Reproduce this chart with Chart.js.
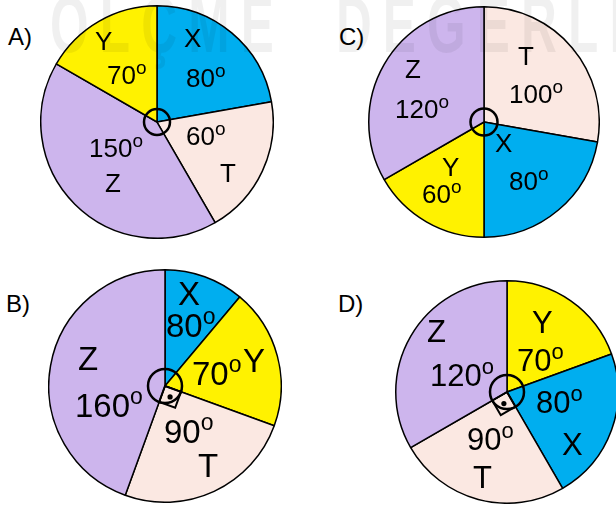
<!DOCTYPE html>
<html>
<head>
<meta charset="utf-8">
<script src="https://cdn.jsdelivr.net/npm/chart.js@4.4.0/dist/chart.umd.min.js"></script>
<style>
  html, body { margin: 0; padding: 0; background: #fff; }
  body { width: 616px; height: 505px; position: relative; overflow: hidden;
         font-family: 'Liberation Sans', Arial, sans-serif; }
  canvas { position: absolute; }
  .tag { position: absolute; font-size: 24px; line-height: 1; color: #000; }
  .stamp { position: absolute; left: 50px; top: -15px; white-space: nowrap;
           font: bold 80px/1 'Liberation Sans', Arial, sans-serif;
           color: rgba(0, 0, 0, 0.06); letter-spacing: 18px; word-spacing: 42px;
           transform-origin: 0 0; transform: scaleX(0.62);
           pointer-events: none; z-index: 5; }
</style>
</head>
<body>
<div class="stamp">ÖLÇME DEĞERLENDİRME</div>
<div class="tag" style="left:8px;top:25px">A)</div>
<div class="tag" style="left:339px;top:25px">C)</div>
<div class="tag" style="left:6px;top:292px">B)</div>
<div class="tag" style="left:338px;top:292px">D)</div>
<canvas id="pieA"></canvas>
<canvas id="pieC"></canvas>
<canvas id="pieB"></canvas>
<canvas id="pieD"></canvas>
<script>
// slices clockwise from 12 o'clock; "drawn" = angle as drawn, "marked" = degrees written on it
const aNames = ['X', 'T', 'Z', 'Y'];
const aDrawn = [80, 70, 150, 60];
const aMarked = ['80', '60', '150', '70'];

const cNames = ['T', 'X', 'Y', 'Z'];
const cDrawn = [100, 80, 60, 120];
const cMarked = ['100', '80', '60', '120'];

const bNames = ['X', 'Y', 'T', 'Z'];
const bDrawn = [40, 70, 90, 160];
const bMarked = ['80', '70', '90', '160'];

const dNames = ['Y', 'X', 'T', 'Z'];
const dDrawn = [70, 80, 90, 120];
const dMarked = ['70', '80', '90', '120'];

const sliceColors = { X: '#00aeef', Y: '#fff200', Z: '#cdb5ed', T: '#fbe8e2' };
const FONT = "'Liberation Sans', Arial, sans-serif";

/**
 * Writes the letter and the degree value in each slice, plus the angle marks at the centre
 */
function labelPlugin(spec) {
    return {
        id: 'sliceLabels',
        afterDatasetsDraw: (chart) => {
            const arcs = chart.getDatasetMeta(0).data;
            const cx = arcs[0].x;
            const cy = arcs[0].y;
            const ctx = chart.ctx;
            const f = spec.fontSize;

            ctx.save();
            ctx.fillStyle = '#000';
            ctx.textAlign = 'left';
            ctx.textBaseline = 'alphabetic';
            spec.names.forEach((name, i) => {
                const spot = spec.spots[i];
                ctx.font = `${f}px ${FONT}`;
                ctx.fillText(name, cx + spot.name[0], cy + spot.name[1]);
                const x = cx + spot.deg[0];
                const y = cy + spot.deg[1];
                ctx.fillText(spec.marked[i], x, y);
                const w = ctx.measureText(spec.marked[i]).width;
                ctx.font = `${spec.supSize}px ${FONT}`;
                ctx.fillText('o', x + w, y - 0.39 * f);
            });

            ctx.strokeStyle = '#000';
            ctx.lineWidth = 2.5;
            ctx.beginPath();
            ctx.arc(cx, cy, spec.ring, 0, Math.PI * 2);
            ctx.stroke();

            if (spec.rightAngle != null) {
                const a = arcs[spec.rightAngle];
                const s = 17;
                const u1 = [Math.cos(a.startAngle), Math.sin(a.startAngle)];
                const u2 = [Math.cos(a.endAngle), Math.sin(a.endAngle)];
                ctx.lineWidth = 2;
                ctx.beginPath();
                ctx.moveTo(cx, cy);
                ctx.lineTo(cx + s * u1[0], cy + s * u1[1]);
                ctx.lineTo(cx + s * (u1[0] + u2[0]), cy + s * (u1[1] + u2[1]));
                ctx.lineTo(cx + s * u2[0], cy + s * u2[1]);
                ctx.closePath();
                ctx.stroke();
                ctx.beginPath();
                ctx.arc(cx + 0.5 * s * (u1[0] + u2[0]), cy + 0.5 * s * (u1[1] + u2[1]), 2.6, 0, Math.PI * 2);
                ctx.fill();
            }
            ctx.restore();
        }
    };
}

/**
 * Create one pie with its canvas placed so the pie centre sits at (cx, cy)
 */
function createPie(canvasId, names, drawn, marked, box, spec) {
    const el = document.getElementById(canvasId);
    if (!el) return null;
    const size = 2 * box.r + 2;
    el.width = size;
    el.height = size;
    el.style.left = (box.cx - size / 2) + 'px';
    el.style.top = (box.cy - size / 2) + 'px';

    return new Chart(el, {
        type: 'pie',
        data: {
            labels: names,
            datasets: [{
                data: drawn,
                backgroundColor: names.map(n => sliceColors[n]),
                borderColor: '#000',
                borderWidth: 1.5
            }]
        },
        options: {
            responsive: false,
            animation: false,
            layout: { padding: 0 },
            plugins: {
                legend: { display: false },
                tooltip: { enabled: false }
            }
        },
        plugins: [labelPlugin({ names, marked, ...spec })]
    });
}

createPie('pieA', aNames, aDrawn, aMarked, { cx: 157, cy: 122, r: 116 }, {
    fontSize: 26, supSize: 19, ring: 13,
    spots: [
        { name: [27, -75], deg: [29, -35] },
        { name: [63, 60], deg: [29, 23] },
        { name: [-52, 70], deg: [-68, 35] },
        { name: [-62, -72], deg: [-50, -38] }
    ]
});

createPie('pieC', cNames, cDrawn, cMarked, { cx: 484, cy: 122, r: 115 }, {
    fontSize: 26, supSize: 19, ring: 13.5,
    spots: [
        { name: [34, -57], deg: [25, -19] },
        { name: [11, 30], deg: [25, 68] },
        { name: [-42, 54], deg: [-62, 81] },
        { name: [-79, -44], deg: [-89, -4] }
    ]
});

createPie('pieB', bNames, bDrawn, bMarked, { cx: 165, cy: 386, r: 116 }, {
    fontSize: 33, supSize: 23, ring: 17, rightAngle: 2,
    spots: [
        { name: [13, -81], deg: [1, -49] },
        { name: [78, -14], deg: [27, -1] },
        { name: [33, 91], deg: [-1, 57] },
        { name: [-87, -16], deg: [-90, 31] }
    ]
});

createPie('pieD', dNames, dDrawn, dMarked, { cx: 507, cy: 392, r: 111 }, {
    fontSize: 31, supSize: 22, ring: 17, rightAngle: 2,
    spots: [
        { name: [25, -59], deg: [10, -21] },
        { name: [55, 63], deg: [29, 21] },
        { name: [-34, 96], deg: [-40, 58] },
        { name: [-80, -50], deg: [-77, -6] }
    ]
});
</script>
</body>
</html>
